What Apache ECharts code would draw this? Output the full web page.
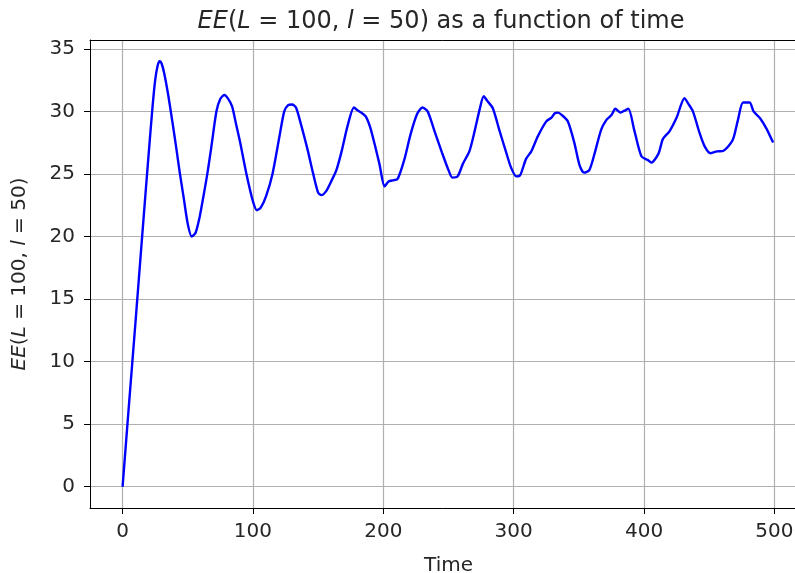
<!DOCTYPE html>
<html>
<head>
<meta charset="utf-8">
<script src="https://cdn.jsdelivr.net/npm/echarts@6/dist/echarts.min.js"></script>
<style>
  html, body { margin: 0; padding: 0; background: #fff; }
  #chart { width: 795px; height: 573px; }
</style>
</head>
<body>
<div id="chart"></div>
<script>
// Entanglement entropy EE(L=100, l=50) sampled over time
const timeValues = [
  0, 5, 10, 15, 20, 23, 25, 27, 28.5, 30, 32, 35, 38, 41, 44, 47, 50, 53, 56, 59,
  62, 65, 68, 72, 75, 78, 81, 84, 87, 90, 95, 100, 103, 106, 110, 115, 120, 124, 127, 130,
  133, 137, 142, 146, 150, 152.5, 156, 160, 164, 168, 172.5, 177.5, 180, 183, 186.5, 190, 194, 197, 201, 204,
  208, 211, 216, 221, 226, 230, 234, 239, 245, 250, 253, 257, 261, 266, 270, 274, 277, 280, 284, 289,
  294, 298, 302, 305, 309.5, 313.5, 318.5, 325, 329, 331.5, 334, 337, 341.5, 346.5, 350.5, 354, 358, 362, 367, 371,
  375, 378, 382, 385, 388, 392.5, 398, 403, 405.5, 411, 414.5, 419.5, 425, 431, 434, 437.5, 442.5, 446.5, 451, 456,
  461, 468, 472, 476, 481, 484, 489, 494, 499
];
const entropyValues = [
  0, 6.7, 13.3, 20, 26.6, 30.4, 32.5, 33.7, 34.0, 33.8, 33.0, 31.3, 29.3, 27.2, 25.0, 23.0, 21.0, 20.0, 20.3, 21.5,
  23.2, 25.0, 27.1, 30.0, 31.0, 31.3, 31.0, 30.4, 29.0, 27.6, 25.0, 22.8, 22.1, 22.3, 23.2, 25.0, 27.8, 30.0, 30.5, 30.55,
  30.3, 28.9, 26.9, 25.1, 23.5, 23.3, 23.6, 24.4, 25.3, 26.8, 28.8, 30.3, 30.1, 29.9, 29.6, 28.7, 27.1, 25.8, 24.0, 24.4,
  24.5, 24.6, 26.1, 28.2, 29.8, 30.3, 30.0, 28.5, 26.7, 25.3, 24.7, 24.8, 25.8, 26.8, 28.4, 30.2, 31.2, 30.8, 30.25, 28.5,
  26.8, 25.5, 24.8, 24.9, 26.2, 26.8, 28.0, 29.2, 29.5, 29.85, 29.9, 29.7, 29.2, 27.5, 25.7, 25.1, 25.3, 26.6, 28.5, 29.3,
  29.7, 30.2, 29.9, 30.05, 30.2, 28.5, 26.4, 26.1, 25.9, 26.6, 27.8, 28.4, 29.5, 31.05, 30.6, 30.0, 28.3, 27.2, 26.65, 26.8,
  26.85, 27.7, 29.3, 30.7, 30.7, 30.0, 29.45, 28.6, 27.5
];
const xTicks = [0, 100, 200, 300, 400, 500];
const yTicks = [0, 5, 10, 15, 20, 25, 30, 35];

const FONT = '"DejaVu Sans", sans-serif';
const TEXT = '#262626';
const GRID = '#b0b0b0';

const mathRich = (size) => ({
  n: { fontFamily: FONT, fontSize: size, color: TEXT, fontWeight: 'normal' },
  i: { fontFamily: FONT, fontSize: size, color: TEXT, fontWeight: 'normal', fontStyle: 'italic' }
});

const chart = echarts.init(document.getElementById('chart'), null, { renderer: 'canvas' });

const spine = { show: true, onZero: false, lineStyle: { color: '#000', width: 1 } };

chart.setOption({
  animation: false,
  backgroundColor: '#fff',
  title: {
    text: '{i|EE}{n|(}{i|L}{n| = 100, }{i|l}{n| = 50) as a function of time}',
    left: 436,
    top: 5,
    textAlign: 'center',
    textStyle: { fontWeight: 'normal', rich: mathRich(24) }
  },
  // the plotting frame runs past the right edge of the canvas
  grid: { left: 90, top: 40, right: -12, bottom: 65, containLabel: false, outerBoundsMode: 'none' },
  xAxis: [
    {
      type: 'value',
      min: -25,
      max: 525,
      axisLine: spine,
      axisTick: { show: true, inside: false, length: 6, customValues: xTicks, lineStyle: { color: '#000', width: 1 } },
      axisLabel: { customValues: xTicks, color: TEXT, fontFamily: FONT, fontSize: 20, margin: 14 },
      splitLine: { show: true, lineStyle: { color: GRID, width: 1.2 } },
      name: 'Time',
      nameLocation: 'middle',
      nameGap: 48,
      nameTextStyle: { color: TEXT, fontFamily: FONT, fontSize: 20 }
    },
    {
      type: 'value',
      position: 'top',
      min: -25,
      max: 525,
      axisLine: spine,
      axisTick: { show: false },
      axisLabel: { show: false },
      splitLine: { show: false }
    }
  ],
  yAxis: {
    type: 'value',
    min: -1.7,
    max: 35.7,
    axisLine: spine,
    axisTick: { show: true, inside: false, length: 6, customValues: yTicks, lineStyle: { color: '#000', width: 1 } },
    axisLabel: { customValues: yTicks, color: TEXT, fontFamily: FONT, fontSize: 20, margin: 15 },
    splitLine: { show: true, lineStyle: { color: GRID, width: 1.2 } },
    name: '{i|EE}{n|(}{i|L}{n| = 100, }{i|l}{n| = 50)}',
    nameLocation: 'middle',
    nameRotate: 90,
    nameGap: 60,
    nameTextStyle: { rich: mathRich(20) }
  },
  series: [{
    type: 'line',
    xAxisIndex: 0,
    data: timeValues.map((t, k) => [t, entropyValues[k]]),
    showSymbol: false,
    smooth: 0.25,
    lineStyle: { color: '#0000ff', width: 2.4 },
    itemStyle: { color: '#0000ff' }
  }]
});
</script>
</body>
</html>
